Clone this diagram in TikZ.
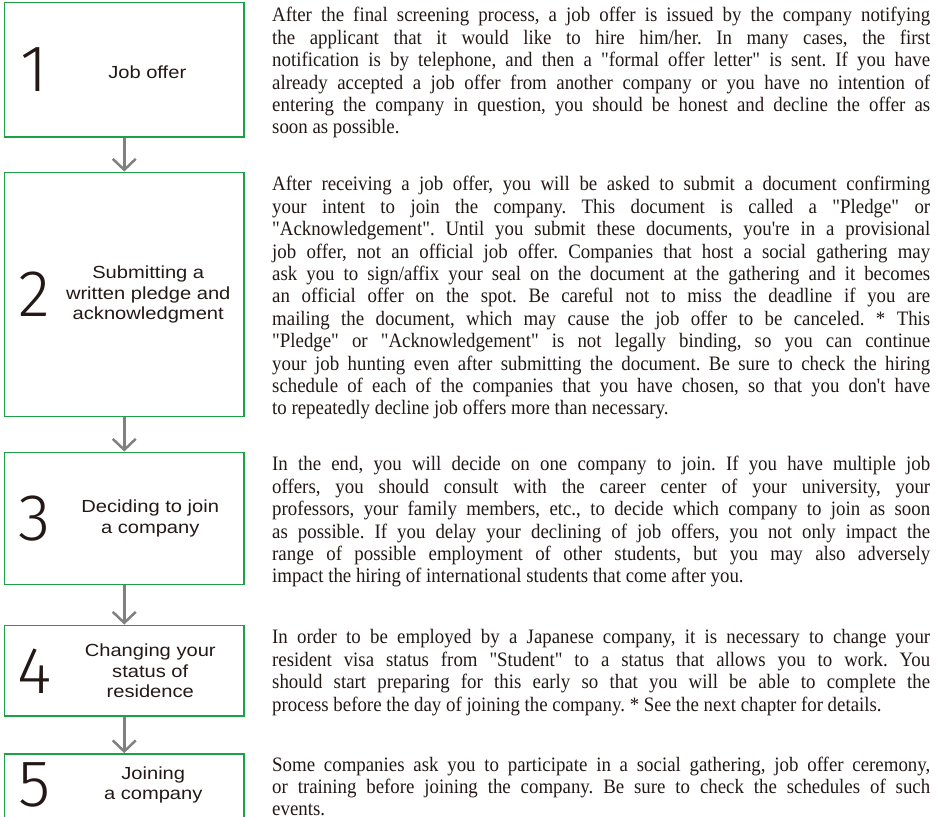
\documentclass[tikz,border=0pt]{standalone}
\usepackage{fontspec}
\setmainfont{Liberation Serif}
\newfontfamily\bodyfont{Liberation Serif}[Ligatures=TeXOff, FakeStretch=0.92]
\newfontfamily\labelfont{Liberation Sans}[FakeStretch=1.15]
\newfontfamily\numfont{Fira Sans Light}
\usepackage{tikz}
\usetikzlibrary{arrows.meta,positioning}
\definecolor{boxgreen}{RGB}{30,160,70}
\definecolor{inkdark}{RGB}{35,24,21}
\definecolor{arrowgray}{RGB}{128,128,128}

\begin{document}
\begin{tikzpicture}[x=1pt,y=1pt,
    stepbox/.style={draw=boxgreen, line width=1.8pt, minimum width=239.5pt, inner sep=0pt},
    numtext/.style={text=inkdark, inner sep=0pt, font=\numfont\fontsize{66}{66}\selectfont},
    steplabel/.style={text=inkdark, inner sep=0pt, align=center, font=\labelfont\fontsize{17.5}{20.5}\selectfont},
    bodytext/.style={text=inkdark, inner sep=0pt, anchor=base west, text width=658pt, align=justify, font=\bodyfont\fontsize{20.5}{22.4}\selectfont\frenchspacing},
    flowarrow/.style={draw=arrowgray, line width=2.5pt, -{Straight Barb[length=11pt,width=23pt,line width=2.5pt]}}]
  \useasboundingbox (0,0) rectangle (936,816);

  % boxes on the left
  \node[stepbox, minimum height=134.5pt] (box1) at (124.25,746.25) {};
  \node[stepbox, minimum height=244pt] (box2) at (124.25,521.5) {};
  \node[stepbox, minimum height=132pt] (box3) at (124.25,297.5) {};
  \node[stepbox, minimum height=90.5pt] (box4) at (124.25,145.25) {};
  \node[stepbox, minimum height=66pt] (box5) at (124.25,29) {};

  \node[numtext] (num1) at ([xshift=30.5pt]box1.west) {1};
  \node[numtext] (num2) at ([xshift=30.5pt]box2.west) {2};
  \node[numtext] (num3) at ([xshift=30.5pt]box3.west) {3};
  \node[numtext] (num4) at ([xshift=30.5pt]box4.west) {4};
  \node[numtext] (num5) at ([xshift=30.5pt,yshift=2pt]box5.west) {5};

  \node[steplabel] (label1) at ([xshift=23pt,yshift=-3pt]box1.center) {Job offer};
  \node[steplabel] (label2) at ([xshift=24pt]box2.center) {Submitting a\\written pledge and\\acknowledgment};
  \node[steplabel] (label3) at ([xshift=26pt]box3.center) {Deciding to join\\a company};
  \node[steplabel] (label4) at ([xshift=26pt]box4.center) {Changing your\\status of\\residence};
  \node[steplabel] (label5) at ([xshift=29pt,yshift=2pt]box5.center) {Joining\\a company};

  \draw[flowarrow] (box1.south) -- (box2.north);
  \draw[flowarrow] (box2.south) -- (box3.north);
  \draw[flowarrow] (box3.south) -- (box4.north);
  \draw[flowarrow] (box4.south) -- (box5.north);

  % explanations on the right
  \node[bodytext] (text1) at (272,794) {After the final screening process, a job offer is issued by the company notifying\linebreak
    the applicant that it would like to hire him/her. In many cases, the first\linebreak
    notification is by telephone, and then a "formal offer letter" is sent. If you have\linebreak
    already accepted a job offer from another company or you have no intention of\linebreak
    entering the company in question, you should be honest and decline the offer as\linebreak
    soon as possible.};
  \node[bodytext] (text2) at (272,625) {After receiving a job offer, you will be asked to submit a document confirming\linebreak
    your intent to join the company. This document is called a "Pledge" or\linebreak
    "Acknowledgement". Until you submit these documents, you're in a provisional\linebreak
    job offer, not an official job offer. Companies that host a social gathering may\linebreak
    ask you to sign/affix your seal on the document at the gathering and it becomes\linebreak
    an official offer on the spot. Be careful not to miss the deadline if you are\linebreak
    mailing the document, which may cause the job offer to be canceled. * This\linebreak
    "Pledge" or "Acknowledgement" is not legally binding, so you can continue\linebreak
    your job hunting even after submitting the document. Be sure to check the hiring\linebreak
    schedule of each of the companies that you have chosen, so that you don't have\linebreak
    to repeatedly decline job offers more than necessary.};
  \node[bodytext] (text3) at (272,345) {In the end, you will decide on one company to join. If you have multiple job\linebreak
    offers, you should consult with the career center of your university, your\linebreak
    professors, your family members, etc., to decide which company to join as soon\linebreak
    as possible. If you delay your declining of job offers, you not only impact the\linebreak
    range of possible employment of other students, but you may also adversely\linebreak
    impact the hiring of international students that come after you.};
  \node[bodytext] (text4) at (272,172) {In order to be employed by a Japanese company, it is necessary to change your\linebreak
    resident visa status from "Student" to a status that allows you to work. You\linebreak
    should start preparing for this early so that you will be able to complete the\linebreak
    process before the day of joining the company. * See the next chapter for details.};
  \node[bodytext] (text5) at (272,45) {Some companies ask you to participate in a social gathering, job offer ceremony,\linebreak
    or training before joining the company. Be sure to check the schedules of such\linebreak
    events.};
\end{tikzpicture}
\end{document}
